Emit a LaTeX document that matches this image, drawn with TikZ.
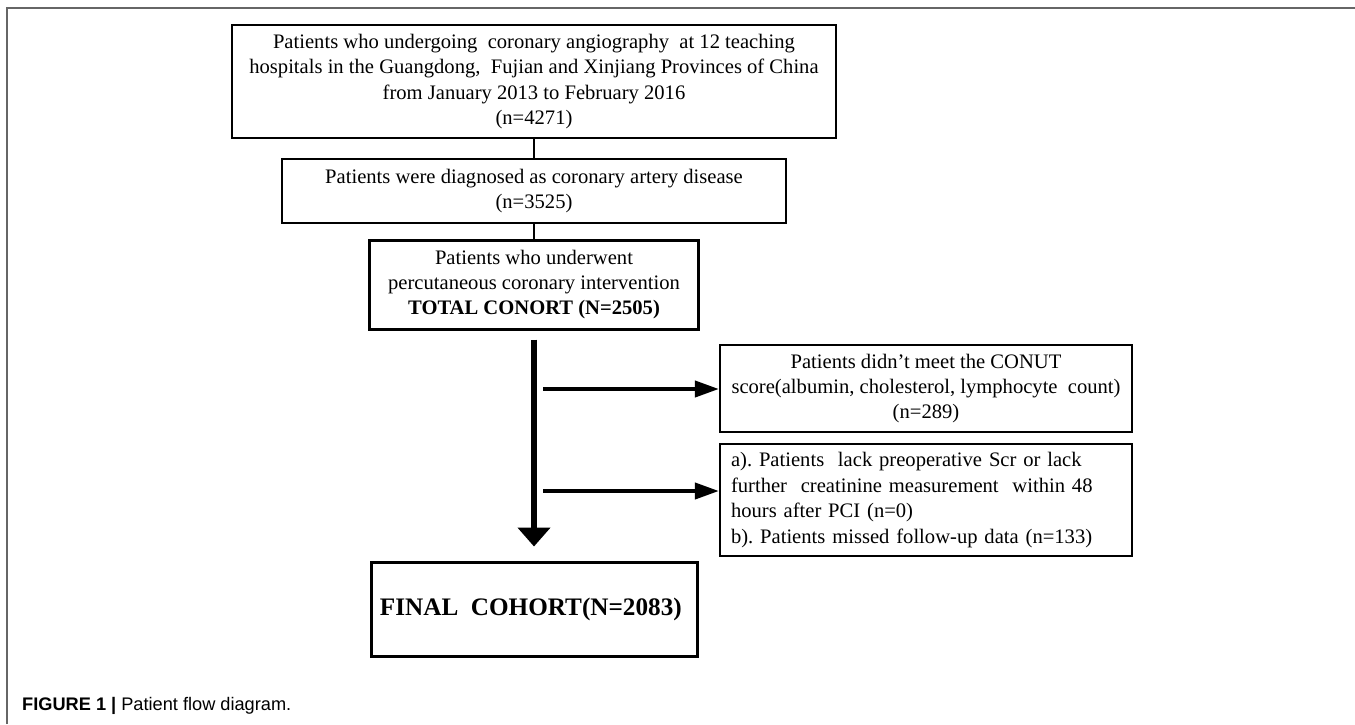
\documentclass[tikz,border=0pt]{standalone}
\usepackage{fontspec}
\setmainfont{Liberation Serif}
\newfontfamily\capfont{Liberation Sans}
\usetikzlibrary{arrows.meta}
\frenchspacing
\tikzstyle{box}=[draw=black, line width=2.2pt, align=center, inner sep=0pt, font=\fontsize{20.6}{25.4}\selectfont]
\tikzstyle{boxthick}=[box, line width=3pt]
\tikzstyle{link}=[draw=black, line width=1.5pt]
\tikzstyle{mainarrow}=[draw=black, line width=6pt, -{Triangle[length=19pt, width=32pt]}]
\tikzstyle{sidearrow}=[draw=black, line width=4pt, -{Triangle[length=24pt, width=16pt]}]

\begin{document}
\begin{tikzpicture}[x=1pt, y=-1pt]
	\useasboundingbox (0,0) rectangle (1355,724);
	\begin{scope}
		\draw[black!60, line width=1.5pt] (7,724) -- (7,8) -- (1355,8);
		\node (b1) at (534, 81.5)[box, minimum width=604pt, minimum height=113pt] {
			Patients who undergoing\ \ coronary angiography\ \ at 12 teaching\\
			hospitals in the Guangdong,\ \ Fujian and Xinjiang Provinces of China\\
			from January 2013 to February 2016\\
			(n=4271)
		};
		\node (b2) at (534, 191)[box, minimum width=504pt, minimum height=64pt] {
			Patients were diagnosed as coronary artery disease\\
			(n=3525)
		};
		\node (b3) at (534, 284.5)[boxthick, minimum width=329pt, minimum height=89pt] {
			Patients who underwent\\
			percutaneous coronary intervention\\
			\textbf{TOTAL CONORT (N=2505)}
		};
		\node (b4) at (926, 388.5)[box, minimum width=412pt, minimum height=87pt] {
			Patients didn't meet the CONUT\\
			score(albumin, cholesterol, lymphocyte\ \ count)\\
			(n=289)
		};
		\node (b5) at (926, 500)[box, align=left, inner xsep=11pt, text width=390pt, minimum height=112pt] {
			a). Patients\ \ lack preoperative Scr or lack\\
			further\ \ creatinine measurement\ \ within 48\\
			hours after PCI (n=0)\\
			b). Patients missed follow-up data (n=133)
		};
		\node (b6) at (534, 609)[boxthick, minimum width=326pt, minimum height=94pt, font=\fontsize{25.2}{30}\selectfont] {
			\textbf{FINAL\ \ COHORT(N=2083)}
		};
		\node (cap) at (22, 706)[anchor=west, font=\capfont\fontsize{18.2}{21}\selectfont, inner sep=0pt] {
			\textbf{FIGURE 1 |} Patient flow diagram.
		};
		\coordinate (s1) at (534, 389);
		\coordinate (s2) at (534, 491);
	\end{scope}
	\begin{scope}
		\path [link] (b1) -- (b2);
		\path [link] (b2) -- (b3);
		\path [mainarrow] ([yshift=-9pt]b3.south) -- ([yshift=14pt]b6.north);
		\path [sidearrow] ([xshift=9pt]s1) -- (s1 -| b4.west);
		\path [sidearrow] ([xshift=9pt]s2) -- (s2 -| b5.west);
	\end{scope}
\end{tikzpicture}
\end{document}
